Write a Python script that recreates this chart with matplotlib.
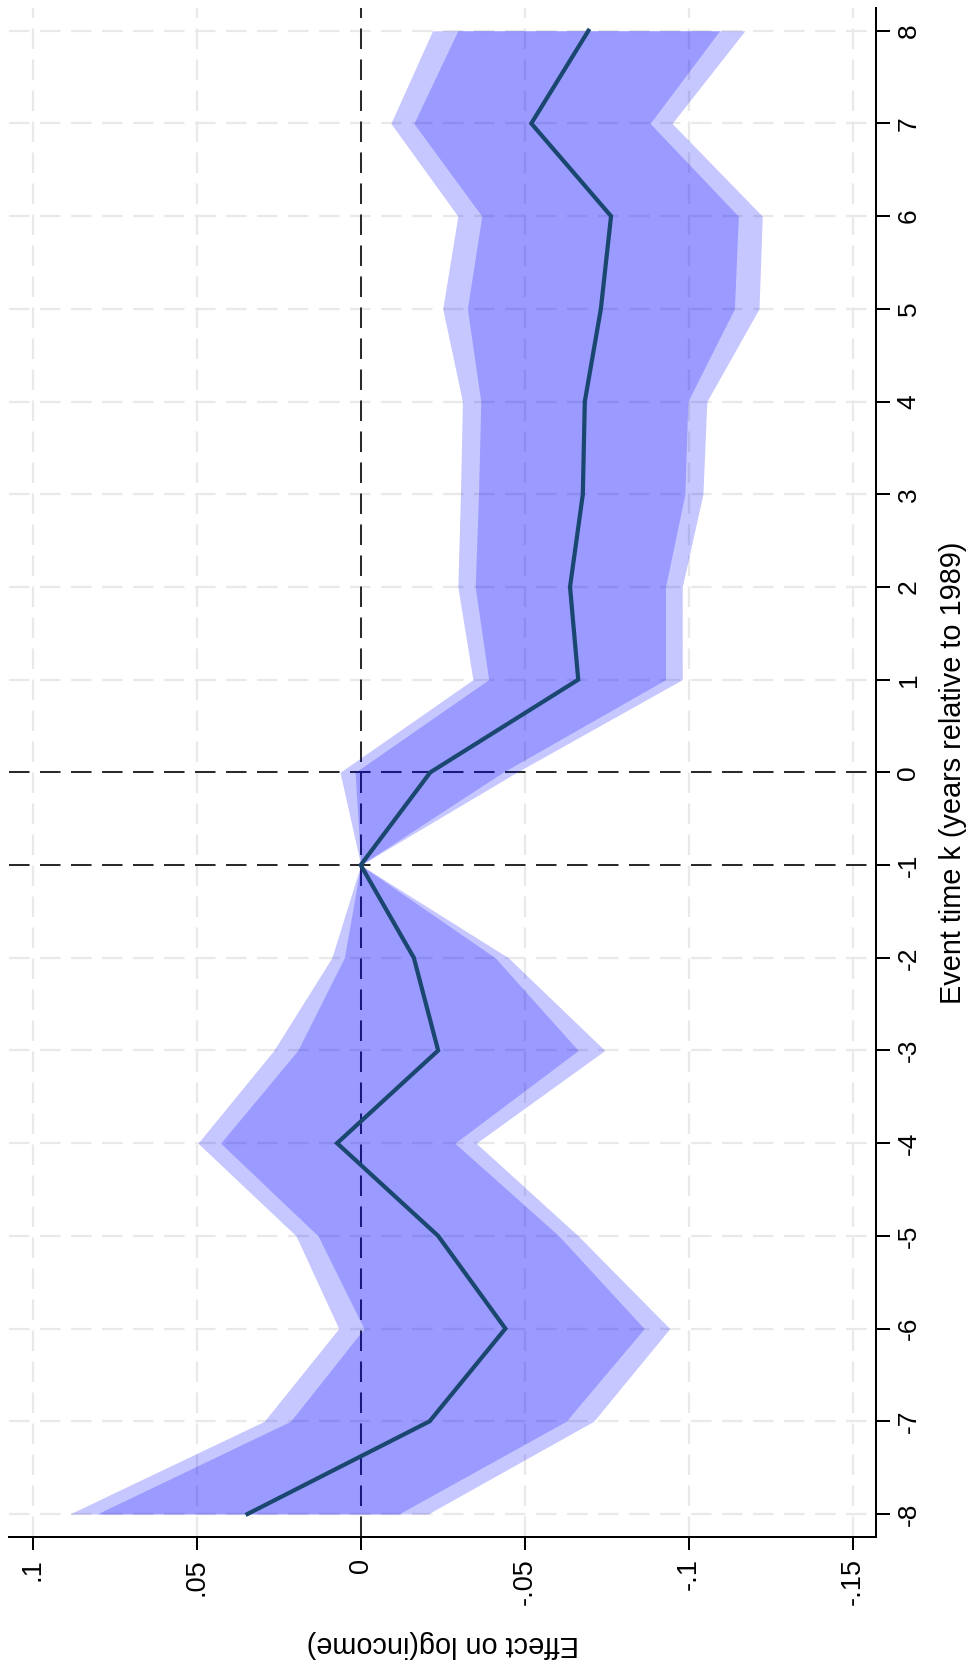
import matplotlib
matplotlib.use("Agg")
import matplotlib.pyplot as plt

plt.rcParams['font.family'] = ['Liberation Sans', 'DejaVu Sans']
plt.rcParams['lines.scale_dashes'] = False

# ---- data (event study, rotated layout) ----
event_k = [-8, -7, -6, -5, -4, -3, -2, -1, 0, 1, 2, 3, 4, 5, 6, 7, 8]
coef = [0.0345, -0.0210, -0.0441, -0.0236, 0.0072, -0.0236, -0.0162, 0.0,
        -0.0212, -0.0663, -0.0638, -0.0677, -0.0683, -0.0732, -0.0763, -0.0520, -0.0694]
ci90_hi = [0.0804, 0.0214, -0.0010, 0.0130, 0.0427, 0.0192, 0.0050, 0.0,
           0.0017, -0.0390, -0.0349, -0.0359, -0.0366, -0.0325, -0.0369, -0.0162, -0.0296]
ci90_lo = [-0.0116, -0.0626, -0.0864, -0.0604, -0.0287, -0.0663, -0.0410, 0.0,
           -0.0433, -0.0929, -0.0929, -0.0988, -0.0997, -0.1139, -0.1151, -0.0882, -0.1094]
ci95_hi = [0.0887, 0.0294, 0.0067, 0.0197, 0.0496, 0.0265, 0.0088, 0.0,
           0.0063, -0.0342, -0.0296, -0.0304, -0.0310, -0.0250, -0.0296, -0.0092, -0.0219]
ci95_lo = [-0.0205, -0.0710, -0.0942, -0.0663, -0.0352, -0.0744, -0.0450, 0.0,
           -0.0475, -0.0980, -0.0980, -0.1043, -0.1055, -0.1214, -0.1224, -0.0949, -0.1171]

effect_ticks = [0.1, 0.05, 0.0, -0.05, -0.1, -0.15]
effect_ticklabels = ['.1', '.05', '0', '-.05', '-.1', '-.15']
event_ticklabels = ['-8', '-7', '-6', '-5', '-4', '-3', '-2', '-1', '0',
                    '1', '2', '3', '4', '5', '6', '7', '8']
ref_event_lines = [-1, 0]
ref_effect_line = 0.0

xlabel_text = 'Effect on log(income)'
ylabel_text = 'Event time k (years relative to 1989)'

# ---- figure ----
W, H = 969, 1671
fig = plt.figure(figsize=(W / 100, H / 100), dpi=100)
ax = fig.add_axes([9.3 / W, (H - 1537) / H, (875.5 - 9.3) / W, (1537 - 8) / H])

px = 0.72  # points per pixel at dpi 100
dash = (0, (20.5 * px, 10.5 * px))

ax.set_xlim(0.1071, -0.1569)
ax.set_ylim(-8.248, 8.245)

ax.set_axisbelow(True)
ax.grid(True, color='#e9e9e9', linewidth=2.2 * px, linestyle=dash)

for yv in ref_event_lines:
    ax.axhline(yv, color='#2b2b2b', linewidth=2.0 * px, linestyle=dash, zorder=1)
ax.axvline(ref_effect_line, color='#2b2b2b', linewidth=2.0 * px, linestyle=dash, zorder=1)

ax.fill_betweenx(event_k, ci95_lo, ci95_hi, color='blue', alpha=0.22, linewidth=0, zorder=2)
ax.fill_betweenx(event_k, ci90_lo, ci90_hi, color='blue', alpha=0.22, linewidth=0, zorder=3)
ax.plot(coef, event_k, color='#1a476f', linewidth=4.2 * px, zorder=4, solid_joinstyle='miter')

# spines
for s in ['left', 'top']:
    ax.spines[s].set_visible(False)
for s in ['bottom', 'right']:
    ax.spines[s].set_linewidth(2.0 * px)
    ax.spines[s].set_color('black')

ax.set_xticks(effect_ticks)
ax.set_xticklabels(effect_ticklabels, rotation=90)
ax.set_yticks(event_k)
ax.set_yticklabels(event_ticklabels, rotation=90, va='center')

ax.yaxis.tick_right()
ax.tick_params(axis='x', direction='out', length=13 * px, width=2.0 * px,
               labelsize=19.5, pad=8 * px, colors='black')
ax.tick_params(axis='y', direction='out', length=14 * px, width=2.0 * px,
               labelsize=19, pad=7 * px, colors='black', left=False, right=True,
               labelleft=False, labelright=True)

ax.set_xlabel(xlabel_text, rotation=180, fontsize=20.8)
ax.xaxis.set_label_coords(0.5, -0.0608)
ax.yaxis.set_label_position('right')
ax.set_ylabel(ylabel_text, rotation=90, fontsize=20.8)
ax.yaxis.set_label_coords(1.0733, 0.5)

fig.savefig('out.png', dpi=100)
